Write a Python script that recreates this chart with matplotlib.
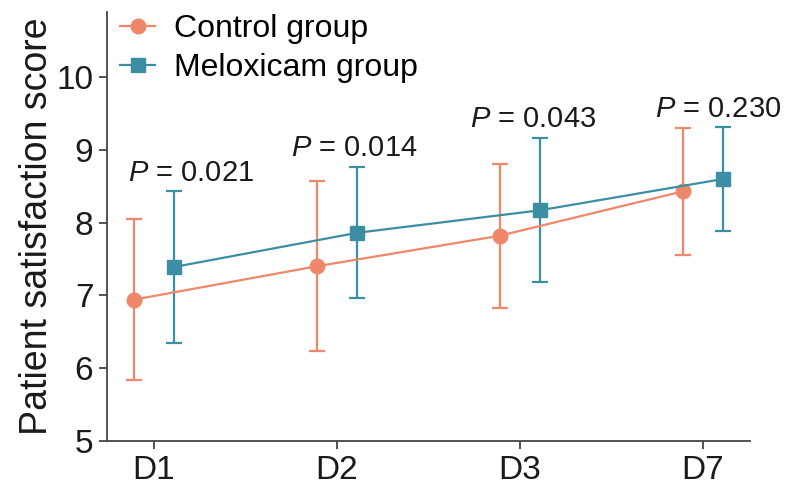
import numpy as np
import matplotlib
matplotlib.use("Agg")
import matplotlib.pyplot as plt

plt.rcParams['font.family'] = ['Liberation Sans', 'DejaVu Sans']
plt.rcParams['mathtext.fontset'] = 'custom'
plt.rcParams['mathtext.rm'] = 'Liberation Sans'
plt.rcParams['mathtext.it'] = 'Liberation Sans:italic'

days = ['D1', 'D2', 'D3', 'D7']
control_mean = [6.94, 7.40, 7.82, 8.43]
control_sd = [1.11, 1.17, 0.99, 0.87]
melox_mean = [7.39, 7.86, 8.17, 8.60]
melox_sd = [1.05, 0.90, 0.99, 0.72]
p_values = ['0.021', '0.014', '0.043', '0.230']

c_orange = '#F0876A'
c_teal = '#3C8EA3'

fig = plt.figure(figsize=(8, 4.93), dpi=100)
ax = fig.add_axes([0.134, 0.106, 0.804, 0.870])

x = np.arange(len(days))
off = 0.11

eb1 = ax.errorbar(x - off, control_mean, yerr=control_sd, color=c_orange, marker='o',
                  markersize=10.5, lw=1.6, elinewidth=1.6, capsize=6, capthick=1.6)
eb2 = ax.errorbar(x + off, melox_mean, yerr=melox_sd, color=c_teal, marker='s',
                  markersize=10.5, lw=1.6, elinewidth=1.6, capsize=6, capthick=1.6)

# p-value labels
p_pos = [(-0.14, 8.68), (0.75, 9.03), (1.73, 9.42), (2.74, 9.56)]
for (px, py), p in zip(p_pos, p_values):
    ax.text(px, py, '$P$ = ' + p, fontsize=21, ha='left', va='center', color='#1a1a1a')

ax.set_xlim(-0.255, 3.26)
ax.set_ylim(5, 10.9)
ax.set_yticks([5, 6, 7, 8, 9, 10])
ax.set_xticks(x)
ax.set_xticklabels(days)
ax.tick_params(axis='both', labelsize=24, length=6, width=1.3, color='#444444',
               labelcolor='#1a1a1a', pad=4)
ax.set_ylabel('Patient satisfaction score', fontsize=27, color='#1a1a1a', labelpad=1)

for s in ['top', 'right']:
    ax.spines[s].set_visible(False)
for s in ['left', 'bottom']:
    ax.spines[s].set_linewidth(1.3)
    ax.spines[s].set_color('#444444')

ax.legend([eb1[0], eb2[0]], ['Control group', 'Meloxicam group'],
          loc='upper left', bbox_to_anchor=(0.0, 1.025), frameon=False, fontsize=23,
          handlelength=1.1, handletextpad=0.6, labelspacing=0.3, borderaxespad=0.0)

fig.savefig('out.png', dpi=100)
